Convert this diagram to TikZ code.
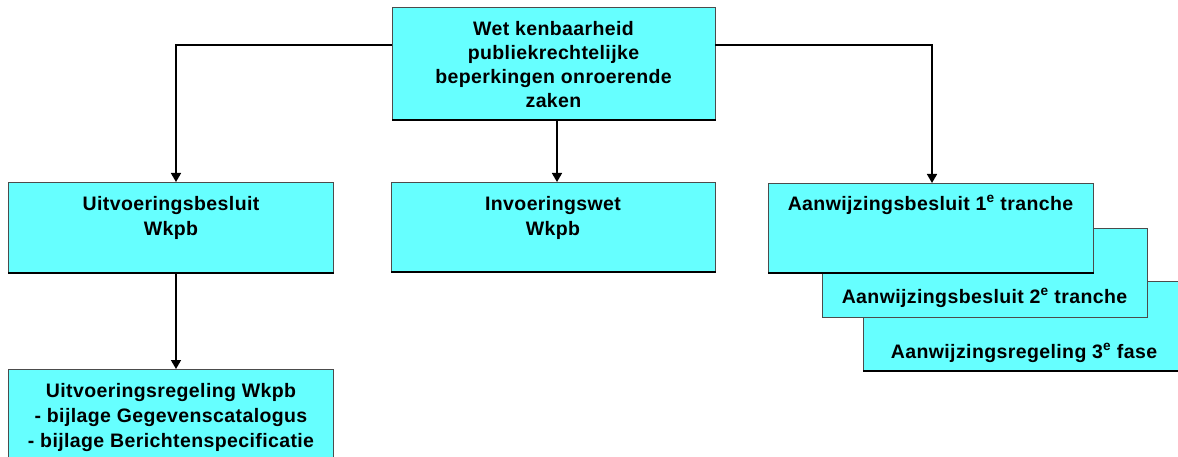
\documentclass[tikz,border=0pt]{standalone}
\usepackage{fontspec}
\setmainfont[LetterSpace=2]{Liberation Sans}
\usetikzlibrary{arrows.meta}
\definecolor{boxcyan}{RGB}{102,255,255}
\begin{document}
\begin{tikzpicture}[x=1pt,y=-1pt,
  box/.style={draw=black!70, line width=0.8pt, fill=boxcyan, anchor=north west, inner sep=0pt, minimum width=#1},
  box/.default=325pt,
  lbl/.style={font=\bfseries\fontsize{19.5}{25}\selectfont, align=center, inner sep=0pt, text=black},
  conn/.style={line width=1.6pt, -{Triangle[length=9pt,width=10pt]}},
  base/.style={line width=2.2pt, black}]
\useasboundingbox (0,0) rectangle (1178,457);
\clip (0,0) rectangle (1178,457);
\fill[white] (0,0) rectangle (1178,457);

% top box
\node[box=323pt, minimum height=112pt] (wet) at (392,7) {};
\draw[base] (wet.south west) -- (wet.south east);
\node[lbl, font=\bfseries\fontsize{19.5}{24}\selectfont] (wett) at (553.5,65) {Wet kenbaarheid\\publiekrechtelijke\\beperkingen onroerende\\zaken};

% second row
\node[box, minimum height=90pt] (uit) at (8,182) {};
\draw[base] (uit.south west) -- (uit.south east);
\node[lbl, anchor=north] (uitt) at (171,196) {Uitvoeringsbesluit\\Wkpb};

\node[box=324pt, minimum height=89pt] (inv) at (391,182) {};
\draw[base] (inv.south west) -- (inv.south east);
\node[lbl, anchor=north] (invt) at (553,196) {Invoeringswet\\Wkpb};

% stacked boxes (back to front)
\node[box=325pt, minimum height=89pt] (aw3) at (863,281) {};
\draw[base] (aw3.south west) -- (aw3.south east);
\node[lbl] (aw3t) at (1024,353) {Aanwijzingsregeling 3\textsuperscript{e} fase};

\node[box=325pt, minimum height=89pt] (aw2) at (822,228) {};
\node[lbl] (aw2t) at (984.5,298) {Aanwijzingsbesluit 2\textsuperscript{e} tranche};

\node[box=325pt, minimum height=89pt] (aw1) at (768,183) {};
\draw[base] (aw1.south west) -- (aw1.south east);
\node[lbl] (aw1t) at (930.5,205) {Aanwijzingsbesluit 1\textsuperscript{e} tranche};

% bottom box
\node[box, minimum height=100pt] (reg) at (8,369) {};
\node[lbl, anchor=north] (regt) at (171,383) {Uitvoeringsregeling Wkpb\\- bijlage Gegevenscatalogus\\- bijlage Berichtenspecificatie};

% connectors
\coordinate (tl) at (392,45);
\coordinate (tr) at (715,45);
\coordinate (ua) at (176,182);
\coordinate (aa) at (932,183);
\draw[conn] (tl) -| (ua);
\draw[conn] (tr) -| (aa);
\draw[conn] (wet.south -| 557,0) -- (inv.north -| 557,0);
\draw[conn] (uit.south -| 176,0) -- (reg.north -| 176,0);
\end{tikzpicture}
\end{document}
